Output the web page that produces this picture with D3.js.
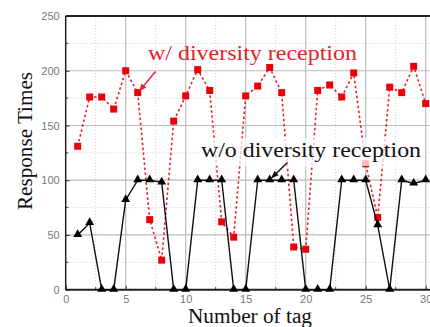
<!DOCTYPE html>
<html><head><meta charset="utf-8">
<script src="https://cdn.jsdelivr.net/npm/d3@7"></script>
<style>html,body{margin:0;padding:0;background:#fff;overflow:hidden}</style>
</head><body><svg id="c" width="430" height="327"></svg>
<script>
const tags = d3.range(1, 31);
const withDiversity = [131,176,176,165,200,180,64,27,154,177,201,182,62,48,177,186,203,180,39,37,182,187,176,198,115,66,185,180,204,170];
const withoutDiversity = [50,61,0,0,82,100,100,98,0,0,100,100,100,0,0,100,100,100,100,0,0,0,100,100,100,59,0,100,97,100];
const xTicks = [0,5,10,15,20,25,30];
const yTicks = [0,50,100,150,200,250];
const seriesNames = ["w/ diversity reception","w/o diversity reception"];
const xTitle = "Number of tag", yTitle = "Response Times";

const svg = d3.select("#c");
const L = 65.7, T = 16, B = 289.7;
const x = d3.scaleLinear().domain([0,30]).range([L, 425.7]);
const y = d3.scaleLinear().domain([0,250]).range([B, T]);
const R = 434;

// minor grid
const g = svg.append("g");
d3.range(2.5, 31, 5).forEach(v => g.append("line").attr("x1",x(v)).attr("x2",x(v)).attr("y1",T).attr("y2",B)
  .attr("stroke","#ccc").attr("stroke-width",1).attr("stroke-dasharray","1,2"));
d3.range(25, 250, 50).forEach(v => g.append("line").attr("x1",L).attr("x2",R).attr("y1",y(v)).attr("y2",y(v))
  .attr("stroke","#ccc").attr("stroke-width",1).attr("stroke-dasharray","1,2"));
// major grid
xTicks.filter(v=>v>0).forEach(v => g.append("line").attr("x1",x(v)).attr("x2",x(v)).attr("y1",T).attr("y2",B)
  .attr("stroke","#bbb").attr("stroke-width",1.2));
yTicks.filter(v=>v>0 && v<250).forEach(v => g.append("line").attr("x1",L).attr("x2",R).attr("y1",y(v)).attr("y2",y(v))
  .attr("stroke","#bbb").attr("stroke-width",1.2));

// axes
const xAxis = svg.append("g").attr("transform",`translate(0,${B})`)
  .call(d3.axisBottom(x).tickValues(xTicks).tickSize(-4).tickPadding(6).tickFormat(d3.format("d")));
const yAxis = svg.append("g").attr("transform",`translate(${L},0)`)
  .call(d3.axisLeft(y).tickValues(yTicks).tickSize(-4).tickPadding(6));
[xAxis,yAxis].forEach(a=>{
  a.select(".domain").remove();
  a.selectAll("text").attr("fill","#777").style("font-family","Liberation Sans, Arial, sans-serif").style("font-size","11px");
  a.selectAll(".tick line").attr("stroke","#333");
});
// minor ticks
d3.range(2.5,31,5).forEach(v=>svg.append("line").attr("x1",x(v)).attr("x2",x(v)).attr("y1",B).attr("y2",B-2.5).attr("stroke","#333"));
d3.range(25,250,50).forEach(v=>svg.append("line").attr("x1",L).attr("x2",L+2.5).attr("y1",y(v)).attr("y2",y(v)).attr("stroke","#333"));
// frame
svg.append("line").attr("x1",L).attr("x2",R).attr("y1",T).attr("y2",T).attr("stroke","#222").attr("stroke-width",2);
svg.append("line").attr("x1",L).attr("x2",R).attr("y1",B).attr("y2",B).attr("stroke","#222").attr("stroke-width",2);
svg.append("line").attr("x1",L).attr("x2",L).attr("y1",T).attr("y2",B).attr("stroke","#222").attr("stroke-width",1.5);

// red series
const line = d3.line().x((d,i)=>x(tags[i])).y(d=>y(d));
svg.append("path").datum(withDiversity).attr("d",line).attr("fill","none")
  .attr("stroke","#e8202a").attr("stroke-width",1.6).attr("stroke-dasharray","2.5,2.5");
svg.append("g").selectAll("rect").data(withDiversity).join("rect")
  .attr("x",(d,i)=>x(tags[i])-3.5).attr("y",d=>y(d)-3.5).attr("width",7).attr("height",7).attr("fill","#e8000a");

// black series
svg.append("path").datum(withoutDiversity).attr("d",line).attr("fill","none")
  .attr("stroke","#111").attr("stroke-width",1.4);
const tri = d3.symbol().type(d3.symbolTriangle).size(34);
svg.append("g").selectAll("path").data(withoutDiversity).join("path")
  .attr("d",tri).attr("transform",(d,i)=>`translate(${x(tags[i])},${y(d)-0.5})`).attr("fill","#000");

// labels
svg.append("rect").attr("x",199).attr("y",138).attr("width",225).attr("height",28).attr("fill","#fff").attr("opacity",0.72);
svg.append("text").attr("x",148).attr("y",60).text(seriesNames[0])
  .attr("textLength",209).attr("lengthAdjust","spacingAndGlyphs")
  .attr("fill","#e8202a").style("font-family","Liberation Serif, Times New Roman, serif").style("font-size","22px");
svg.append("text").attr("x",201).attr("y",157).text(seriesNames[1])
  .attr("textLength",220).attr("lengthAdjust","spacingAndGlyphs")
  .attr("fill","#111").style("font-family","Liberation Serif, Times New Roman, serif").style("font-size","22px");

// arrows
function arrow(x1,y1,x2,y2,col){
  svg.append("line").attr("x1",x1).attr("y1",y1).attr("x2",x2).attr("y2",y2).attr("stroke",col).attr("stroke-width",1.5);
  const a = Math.atan2(y2-y1,x2-x1), s=8;
  const p = [[x2,y2],[x2 - s*Math.cos(a-0.4), y2 - s*Math.sin(a-0.4)],[x2 - s*Math.cos(a+0.4), y2 - s*Math.sin(a+0.4)]];
  svg.append("path").attr("d","M"+p.join("L")+"Z").attr("fill",col);
}
arrow(155.5,71.5,x(6)+1.5,y(180)-1.5,"#e8202a");
arrow(287.5,162.5,x(17)+1.5,y(100)-2,"#111");

// axis titles
svg.append("text").attr("x",250).attr("y",323).attr("text-anchor","middle").text(xTitle)
  .attr("textLength",124).attr("lengthAdjust","spacingAndGlyphs")
  .style("font-family","Liberation Serif, Times New Roman, serif").style("font-size","20px").attr("fill","#111");
svg.append("text").attr("transform","translate(32,141) rotate(-90)").attr("text-anchor","middle").text(yTitle)
  .attr("textLength",138).attr("lengthAdjust","spacingAndGlyphs")
  .style("font-family","Liberation Serif, Times New Roman, serif").style("font-size","20px").attr("fill","#111");
</script></body></html>
